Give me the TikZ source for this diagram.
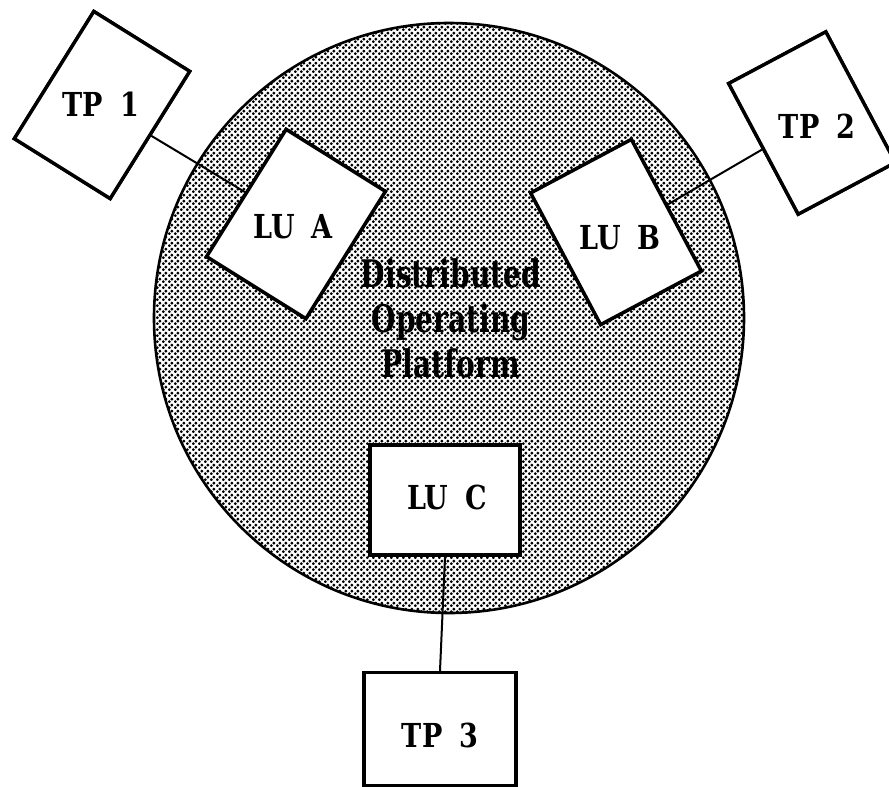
\documentclass[tikz,border=0pt]{standalone}
\usepackage{fontspec}
\usetikzlibrary{patterns.meta}

% Slab-serif faces for the box labels and the platform caption
\newfontfamily\boxfont[FakeStretch=0.82,WordSpace=1.8]{DejaVu Serif}
\newfontfamily\platfont[FakeStretch=0.74]{DejaVu Serif}

% Printed halftone screen for the platform disc
\tikzdeclarepattern{
  name=halftone,
  type=uncolored,
  bounding box={(0pt,0pt) and (6pt,6pt)},
  tile size={(6pt,6pt)},
  code={
    \pgfpathcircle{\pgfpoint{1.5pt}{1.5pt}}{1.8pt}
    \pgfpathcircle{\pgfpoint{4.5pt}{4.5pt}}{1.8pt}
    \pgfusepath{fill}
  }
}

\begin{document}
\begin{tikzpicture}[x=1pt,y=-1pt,
  unitbox/.style={draw=black, line width=3.4pt, fill=white, inner sep=0pt,
    minimum width=#1},
  boxlabel/.style={inner sep=0pt, font=\boxfont\bfseries\fontsize{33}{38}\selectfont},
  link/.style={draw=black, line width=2pt},
  platform/.style={circle, draw=black, line width=2.6pt, inner sep=0pt,
    minimum size=590pt, pattern=halftone, pattern color=black}
]
\useasboundingbox (0,0) rectangle (889,787);

% Distributed operating platform
\node[platform] (dop) at (449,318) {};
\node[inner sep=0pt, align=center,
      font=\platfont\bfseries\fontsize{38}{45}\selectfont] (caption) at (451,318)
  {Distributed\\Operating\\Platform};

% Logical units and terminal processes
\node[unitbox=113pt, minimum height=150pt, rotate=-32] (tp1) at (102,105) {};
\node[unitbox=117pt, minimum height=150pt, rotate=-32] (lua) at (296,224) {};
\node[unitbox=110pt, minimum height=148pt, rotate=28]  (tp2) at (812,123) {};
\node[unitbox=114pt, minimum height=149pt, rotate=28]  (lub) at (616,232) {};
\node[unitbox=150pt, minimum height=110pt]             (luc) at (445,500) {};
\node[unitbox=152pt, minimum height=113pt]             (tp3) at (440,729) {};

% Connections between terminals and logical units
\draw[link] (tp1.east) -- (lua.west);
\draw[link] (tp2.west) -- (lub.east);
\draw[link] (luc.south) -- (tp3.north);

% Redraw the rotated boxes above the connections
\node[unitbox=113pt, minimum height=150pt, rotate=-32] at (tp1) {};
\node[unitbox=117pt, minimum height=150pt, rotate=-32] at (lua) {};
\node[unitbox=110pt, minimum height=148pt, rotate=28]  at (tp2) {};
\node[unitbox=114pt, minimum height=149pt, rotate=28]  at (lub) {};

% Labels
\node[boxlabel] (tp1text) at (101,104) {TP 1};
\node[boxlabel] (luatext) at (293,227) {LU A};
\node[boxlabel] (tp2text) at (817,126) {TP 2};
\node[boxlabel] (lubtext) at (620,238) {LU B};
\node[boxlabel] (luctext) at (447,497) {LU C};
\node[boxlabel] (tp3text) at (440,735) {TP 3};
\end{tikzpicture}
\end{document}
